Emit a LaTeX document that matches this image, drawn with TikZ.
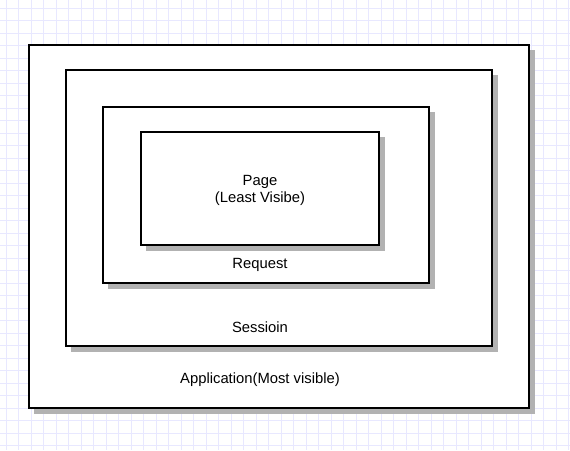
\documentclass[tikz,border=0pt]{standalone}
\usepackage{fontspec}
\setmainfont{Liberation Sans}
\begin{document}
\begin{tikzpicture}[x=1pt,y=-1pt,
  box/.style={draw=black,line width=2.2pt,fill=white},
  shad/.style={fill=black!30,draw=none},
  lbl/.style={font=\fontsize{14.8}{17}\selectfont,align=center,inner sep=0pt}]
\useasboundingbox (0,0) rectangle (570,450);
\fill[white] (0,0) rectangle (570,450);
\foreach \i in {0,...,45} {
  \pgfmathsetmacro{\gx}{6+12.5*\i}
  \draw[color={rgb,255:red,232;green,232;blue,255},line width=0.8pt] (\gx,0) -- (\gx,450);
}
\foreach \i in {0,...,36} {
  \pgfmathsetmacro{\gy}{8.3+12.5*\i}
  \draw[color={rgb,255:red,232;green,232;blue,255},line width=0.8pt] (0,\gy) -- (570,\gy);
}
% outer
\fill[shad] (34,50) rectangle (535,414);
\draw[box] (29,45) rectangle (529,408);
\node[lbl] (app) at (260,380) {Application(Most visible)};
% session
\fill[shad] (71,75) rectangle (498,352);
\draw[box] (66,70) rectangle (492,346);
\node[lbl] (ses) at (260,327) {Sessioin};
% request
\fill[shad] (108,112) rectangle (435,289);
\draw[box] (103,107) rectangle (429,283);
\node[lbl] (req) at (260,265) {Request};
% page
\fill[shad] (146,137) rectangle (385,251);
\draw[box] (141,132) rectangle (379,245);
\node[lbl] (page) at (260,190) {Page\\(Least Visibe)};
\end{tikzpicture}
\end{document}
